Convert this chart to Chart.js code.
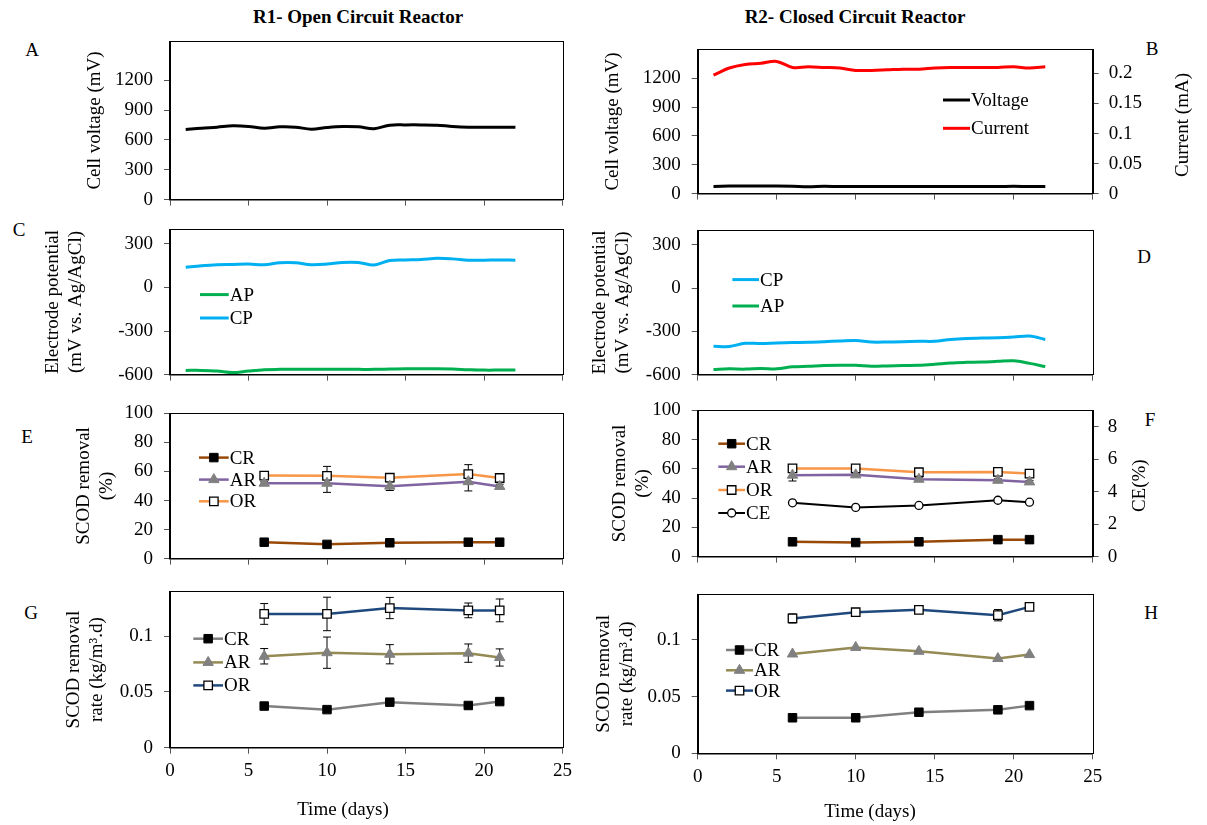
<!DOCTYPE html>
<html>
<head>
<meta charset="utf-8">
<script src="https://cdn.jsdelivr.net/npm/chart.js@4/dist/chart.umd.min.js"></script>
<style>
  body { margin: 0; width: 1207px; height: 825px; position: relative; overflow: hidden; background: #fff;
         font-family: "Liberation Serif", "Times New Roman", serif; }
  .lbl { position: absolute; font-size: 19px; color: #000; transform: translate(-50%, -50%); white-space: nowrap; }
  .hdr { font-weight: bold; }
</style>
</head>
<body>
<div class="lbl hdr" style="left:358px;top:17px">R1- Open Circuit Reactor</div>
<div class="lbl hdr" style="left:855px;top:17px">R2- Closed Circuit Reactor</div>
<div class="lbl" style="left:32px;top:50px">A</div>
<div class="lbl" style="left:1152px;top:49px">B</div>
<div class="lbl" style="left:19px;top:230px">C</div>
<div class="lbl" style="left:1144px;top:257px">D</div>
<div class="lbl" style="left:27px;top:437px">E</div>
<div class="lbl" style="left:1150px;top:420px">F</div>
<div class="lbl" style="left:31px;top:613px">G</div>
<div class="lbl" style="left:1151px;top:613px">H</div>
<script>
// daily readings (days 1-22)
const dailyDays = [1, 2, 3, 4, 5, 6, 7, 8, 9, 10, 11, 12, 13, 14, 15, 16, 17, 18, 19, 20, 21, 22];
const r1Voltage = [705, 718, 728, 741, 735, 718, 731, 728, 708, 725, 735, 731, 712, 748, 751, 751, 748, 735, 728, 728, 728, 728];
const r2Voltage = [75, 78, 80, 80, 80, 77, 72, 76, 73, 73, 73, 73, 73, 73, 73, 73, 73, 73, 73, 77, 73, 73];
const r2Current = [0.197, 0.209, 0.215, 0.217, 0.220, 0.210, 0.211, 0.210, 0.209, 0.205, 0.205, 0.206, 0.207, 0.207, 0.209, 0.210, 0.210, 0.210, 0.210, 0.211, 0.209, 0.211];
const r1CP = [139, 150, 157, 159, 161, 157, 170, 170, 157, 161, 172, 172, 155, 186, 190, 193, 201, 197, 188, 188, 190, 188];
const r1AP = [-571, -571, -575, -586, -575, -566, -564, -564, -564, -564, -564, -564, -564, -562, -560, -560, -560, -562, -566, -569, -569, -569];
const r2CP = [-403, -405, -383, -385, -381, -378, -376, -372, -367, -363, -374, -374, -372, -369, -369, -356, -349, -347, -345, -340, -333, -356];
const r2AP = [-564, -560, -562, -557, -560, -546, -542, -537, -535, -535, -542, -540, -537, -535, -528, -519, -515, -513, -508, -504, -522, -544];

// sampling days
const sampleDays = [6, 10, 14, 19, 21];
const r1RemCR = [11.3, 9.8, 10.9, 11.3, 11.3];
const r1RemAR = [51.9, 51.9, 49.9, 53.0, 49.7];
const r1RemOR = [57.2, 57.0, 55.7, 58.2, 55.5];
const r1RemARErr = [1, 6.3, 3, 6.4, 1.5];
const r1RemORErr = [1, 6.5, 2.5, 6.5, 1.5];
const r2RemCR = [10.1, 9.6, 10.1, 11.6, 11.6];
const r2RemAR = [55.7, 55.9, 52.9, 52.2, 51.1];
const r2RemOR = [60.3, 60.3, 57.7, 57.9, 56.8];
const r2RemARErr = [4, 1, 1, 1, 1];
const r2RemORErr = [1, 1, 1, 1, 1];
const r2CE = [3.31, 3.03, 3.15, 3.47, 3.35];
const r1RateCR = [0.0373, 0.0341, 0.0408, 0.0378, 0.0413];
const r1RateAR = [0.0819, 0.0851, 0.0837, 0.0847, 0.0808];
const r1RateOR = [0.1198, 0.1198, 0.1251, 0.1230, 0.1230];
const r1RateARErr = [0.0069, 0.014, 0.0086, 0.0082, 0.0077];
const r1RateORErr = [0.0093, 0.015, 0.0095, 0.0066, 0.0102];
const r2RateCR = [0.0313, 0.0313, 0.0362, 0.0383, 0.0420];
const r2RateAR = [0.0875, 0.0933, 0.0899, 0.0835, 0.0870];
const r2RateOR = [0.1188, 0.1243, 0.1264, 0.1217, 0.1290];
const r2RateORErr = [0.004, 0.001, 0.001, 0.005, 0.002];

// axis ticks
const dayTicks = [0, 5, 10, 15, 20, 25];
const voltageTicks = [0, 300, 600, 900, 1200];
const currentTicks = [0, 0.05, 0.1, 0.15, 0.2];
const potentialTicks = [-600, -300, 0, 300];
const removalTicks = [0, 20, 40, 60, 80, 100];
const ceTicks = [0, 2, 4, 6, 8];
const rateTicks = [0, 0.05, 0.1];

const FONT = "'Liberation Serif', 'Times New Roman', serif";
Chart.defaults.font.family = FONT;
Chart.defaults.font.size = 19;
Chart.defaults.color = "#000";

const drawMarker = (ctx, m, x, y) => {
  ctx.save();
  ctx.beginPath();
  if (m.style === "rect") {
    const s = m.r * Math.SQRT1_2;
    ctx.rect(x - s, y - s, 2 * s, 2 * s);
  } else if (m.style === "triangle") {
    for (let k = 0; k < 3; k++) {
      const a = (k * 2 * Math.PI) / 3;
      const px = x + Math.sin(a) * m.r;
      const py = y - Math.cos(a) * m.r;
      if (k) ctx.lineTo(px, py); else ctx.moveTo(px, py);
    }
    ctx.closePath();
  } else {
    ctx.arc(x, y, m.r, 0, 2 * Math.PI);
  }
  ctx.fillStyle = m.fill;
  ctx.fill();
  ctx.lineWidth = m.bw;
  ctx.strokeStyle = m.stroke;
  ctx.stroke();
  ctx.restore();
};

// series styles
const sq = { style: "rect", r: 6, fill: "#000", stroke: "#000", bw: 1 };
const sqOpen = { style: "rect", r: 6, fill: "#fff", stroke: "#000", bw: 1.3 };
const tri = { style: "triangle", r: 6, fill: "#808080", stroke: "#808080", bw: 1 };
const circ = { style: "circle", r: 4, fill: "#fff", stroke: "#000", bw: 1.3 };
const stVoltage = { color: "#000", width: 3 };
const stCurrent = { color: "#ff0000", width: 3 };
const stAP = { color: "#00b050", width: 3 };
const stCP = { color: "#00b0f0", width: 3 };
const stCR1 = { color: "#984807", width: 2.5, marker: sq };
const stAR1 = { color: "#8064a2", width: 2.5, marker: tri };
const stOR1 = { color: "#f79646", width: 2.5, marker: sqOpen };
const stCE = { color: "#000", width: 2, marker: circ };
const stCR2 = { color: "#808080", width: 2.5, marker: sq };
const stAR2 = { color: "#948a54", width: 2.5, marker: tri };
const stOR2 = { color: "#1f497d", width: 2.5, marker: sqOpen };

const smooth = (label, vals, st, axis) => ({
  label, yAxisID: axis || "y",
  data: dailyDays.map((d, i) => ({ x: d, y: vals[i] })),
  borderColor: st.color, borderWidth: st.width, pointRadius: 0, tension: 0.35, style: st,
});
const marked = (label, vals, st, errs, axis) => ({
  label, yAxisID: axis || "y", errors: errs || null,
  data: sampleDays.map((d, i) => ({ x: d, y: vals[i] })),
  borderColor: st.color, borderWidth: st.width, tension: 0,
  pointStyle: st.marker.style, pointRadius: st.marker.r,
  pointBackgroundColor: st.marker.fill, pointBorderColor: st.marker.stroke, pointBorderWidth: st.marker.bw,
  style: st,
});

const fmt = (v) => String(Math.round(v * 1000) / 1000);
const grid = { display: true, drawOnChartArea: false, drawTicks: true, tickLength: 6, tickColor: "#555" };
const border = { display: true, color: "#000", width: 1.5 };

const makePanel = (p) => {
  const cx = p.col === 0 ? 0 : 580;
  const cw = p.col === 0 ? 580 : 627;
  const ct = p.area.t - 20;
  const cb = p.bottom || p.area.b + 20;
  const canvas = document.createElement("canvas");
  canvas.width = cw;
  canvas.height = cb - ct;
  canvas.style.cssText = `position:absolute;left:${cx}px;top:${ct}px;`;
  document.body.appendChild(canvas);

  const yW = p.area.l - cx;
  const rW = cx + cw - p.area.r;
  const xH = cb - p.area.b;

  const scales = {
    x: {
      type: "linear", min: 0, max: 25, position: "bottom",
      afterBuildTicks: (s) => { s.ticks = dayTicks.map((v) => ({ value: v })); },
      afterFit: (s) => { s.height = xH; },
      grid, border,
      ticks: { display: !!p.xLabels, padding: 6, callback: (v) => fmt(v) },
    },
    y: {
      min: p.y.min, max: p.y.max,
      afterBuildTicks: (s) => { s.ticks = p.y.ticks.map((v) => ({ value: v })); },
      afterFit: (s) => { s.width = yW; },
      grid, border,
      ticks: { padding: 11, callback: (v) => fmt(v) },
      title: { display: true, text: p.y.title, padding: { top: p.y.titleX - cx - 11.4, bottom: 0 } },
    },
  };
  if (p.y1) {
    scales.y1 = {
      position: "right", min: p.y1.min, max: p.y1.max,
      afterBuildTicks: (s) => { s.ticks = p.y1.ticks.map((v) => ({ value: v })); },
      afterFit: (s) => { s.width = rW; },
      grid, border,
      ticks: { padding: p.y1.pad, callback: (v) => fmt(v) },
    };
  }

  const decor = {
    id: "decor",
    beforeDatasetsDraw(chart) {
      const { ctx, chartArea: a } = chart;
      ctx.save();
      ctx.strokeStyle = "#000";
      ctx.lineWidth = 1;
      ctx.strokeRect(Math.round(a.left) + 0.5, Math.round(a.top) + 0.5,
        Math.round(a.right - a.left), Math.round(a.bottom - a.top));
      // error bars
      ctx.strokeStyle = "#000";
      chart.data.datasets.forEach((ds, i) => {
        if (!ds.errors) return;
        const meta = chart.getDatasetMeta(i);
        const xs = chart.scales[meta.xAxisID];
        const ys = chart.scales[meta.yAxisID];
        ds.data.forEach((pt, j) => {
          const e = ds.errors[j];
          const x = xs.getPixelForValue(pt.x);
          const y1 = ys.getPixelForValue(pt.y + e);
          const y2 = ys.getPixelForValue(pt.y - e);
          ctx.beginPath();
          ctx.moveTo(x, y1); ctx.lineTo(x, y2);
          ctx.moveTo(x - 4, y1); ctx.lineTo(x + 4, y1);
          ctx.moveTo(x - 4, y2); ctx.lineTo(x + 4, y2);
          ctx.stroke();
        });
      });
      ctx.restore();
    },
    afterDraw(chart) {
      const { ctx } = chart;
      ctx.save();
      ctx.font = `19px ${FONT}`;
      ctx.fillStyle = "#000";
      // legend
      const lg = p.legend;
      if (lg) {
        lg.rows.forEach((row, k) => {
          const ds = chart.data.datasets[row];
          const st = ds.style;
          const y = lg.y[k] - ct;
          const x1 = lg.x1 - cx, x2 = lg.x2 - cx;
          ctx.strokeStyle = st.color;
          ctx.lineWidth = st.width;
          ctx.beginPath(); ctx.moveTo(x1, y); ctx.lineTo(x2, y); ctx.stroke();
          if (st.marker) drawMarker(ctx, st.marker, (x1 + x2) / 2, y);
          ctx.textAlign = "left";
          ctx.textBaseline = "middle";
          ctx.fillText(ds.label, x2 + 1, y + 1);
        });
      }
      // free text: x titles and right axis titles
      (p.texts || []).forEach((t) => {
        ctx.save();
        ctx.translate(t.x - cx, t.y - ct);
        if (t.rot) ctx.rotate(t.rot);
        ctx.textAlign = "center";
        ctx.textBaseline = "middle";
        ctx.fillText(t.text, 0, 0);
        ctx.restore();
      });
      ctx.restore();
    },
  };

  new Chart(canvas, {
    type: "line",
    data: { datasets: p.datasets },
    options: {
      responsive: false,
      animation: false,
      events: [],
      layout: { autoPadding: false, padding: { left: 0, top: p.area.t - ct, right: p.y1 ? 0 : rW, bottom: 0 } },
      plugins: { legend: { display: false }, tooltip: { enabled: false } },
      scales,
    },
    plugins: [decor],
  });
};

document.addEventListener("DOMContentLoaded", () => {
  const up = -Math.PI / 2;

  // A
  makePanel({
    col: 0, area: { l: 170, t: 39, r: 562.5, b: 202 },
    y: { min: 0, max: 1590, ticks: voltageTicks, title: "Cell voltage (mV)", titleX: 95 },
    datasets: [smooth("Voltage", r1Voltage, stVoltage)],
  });

  // B
  makePanel({
    col: 1, area: { l: 697.7, t: 47, r: 1092.7, b: 196.7 },
    y: { min: 0, max: 1500, ticks: voltageTicks, title: "Cell voltage (mV)", titleX: 613 },
    y1: { min: 0, max: 0.24, ticks: currentTicks, pad: 10 },
    datasets: [smooth("Voltage", r2Voltage, stVoltage), smooth("Current", r2Current, stCurrent, "y1")],
    legend: { x1: 943, x2: 970, y: [100, 128.3], rows: [0, 1] },
    texts: [{ text: "Current (mA)", x: 1183, y: 125, rot: up }],
  });

  // C
  makePanel({
    col: 0, area: { l: 170, t: 226.7, r: 562.5, b: 377.3 },
    y: { min: -600, max: 400, ticks: potentialTicks, title: ["Electrode potential", "(mV vs. Ag/AgCl)"], titleX: 53 },
    datasets: [smooth("AP", r1AP, stAP), smooth("CP", r1CP, stCP)],
    legend: { x1: 200, x2: 228.7, y: [294.3, 317.7], rows: [0, 1] },
  });

  // D
  makePanel({
    col: 1, area: { l: 697.7, t: 227.7, r: 1092.7, b: 376.7 },
    y: { min: -600, max: 400, ticks: potentialTicks, title: ["Electrode potential", "(mV vs. Ag/AgCl)"], titleX: 600 },
    datasets: [smooth("CP", r2CP, stCP), smooth("AP", r2AP, stAP)],
    legend: { x1: 732.4, x2: 759, y: [279.3, 305.7], rows: [0, 1] },
  });

  // E
  makePanel({
    col: 0, area: { l: 170, t: 410.7, r: 562.5, b: 561 },
    y: { min: 0, max: 100, ticks: removalTicks, title: ["SCOD removal", "(%)"], titleX: 84 },
    datasets: [
      marked("CR", r1RemCR, stCR1),
      marked("AR", r1RemAR, stAR1, r1RemARErr),
      marked("OR", r1RemOR, stOR1, r1RemORErr),
    ],
    legend: { x1: 199, x2: 228.7, y: [457.3, 479.3, 501], rows: [0, 1, 2] },
  });

  // F
  makePanel({
    col: 1, area: { l: 697.7, t: 408.3, r: 1092.7, b: 560.3 },
    y: { min: 0, max: 100, ticks: removalTicks, title: ["SCOD removal", "(%)"], titleX: 620 },
    y1: { min: 0, max: 9, ticks: ceTicks, pad: 9 },
    datasets: [
      marked("CR", r2RemCR, stCR1),
      marked("AR", r2RemAR, stAR1, r2RemARErr),
      marked("OR", r2RemOR, stOR1, r2RemORErr),
      marked("CE", r2CE, stCE, null, "y1"),
    ],
    legend: { x1: 718.3, x2: 745, y: [444, 467, 490.3, 513.3], rows: [0, 1, 2, 3] },
    texts: [{ text: "CE(%)", x: 1140, y: 486, rot: up }],
  });

  // G
  makePanel({
    col: 0, area: { l: 170, t: 589.3, r: 562.5, b: 748.7 }, bottom: 825, xLabels: true,
    y: { min: 0, max: 0.14, ticks: rateTicks, title: ["SCOD removal", "rate (kg/m³.d)"], titleX: 74 },
    datasets: [
      marked("CR", r1RateCR, stCR2),
      marked("AR", r1RateAR, stAR2, r1RateARErr),
      marked("OR", r1RateOR, stOR2, r1RateORErr),
    ],
    legend: { x1: 193.3, x2: 223, y: [639, 662.7, 685.7], rows: [0, 1, 2] },
    texts: [{ text: "Time (days)", x: 343, y: 810 }],
  });

  // H
  makePanel({
    col: 1, area: { l: 697.7, t: 591.7, r: 1092.7, b: 753.3 }, bottom: 825, xLabels: true,
    y: { min: 0, max: 0.14, ticks: rateTicks, title: ["SCOD removal", "rate (kg/m³.d)"], titleX: 604 },
    datasets: [
      marked("CR", r2RateCR, stCR2),
      marked("AR", r2RateAR, stAR2),
      marked("OR", r2RateOR, stOR2, r2RateORErr),
    ],
    legend: { x1: 726, x2: 753, y: [649.7, 670, 690.3], rows: [0, 1, 2] },
    texts: [{ text: "Time (days)", x: 870, y: 811.7 }],
  });
});
</script>
</body>
</html>
